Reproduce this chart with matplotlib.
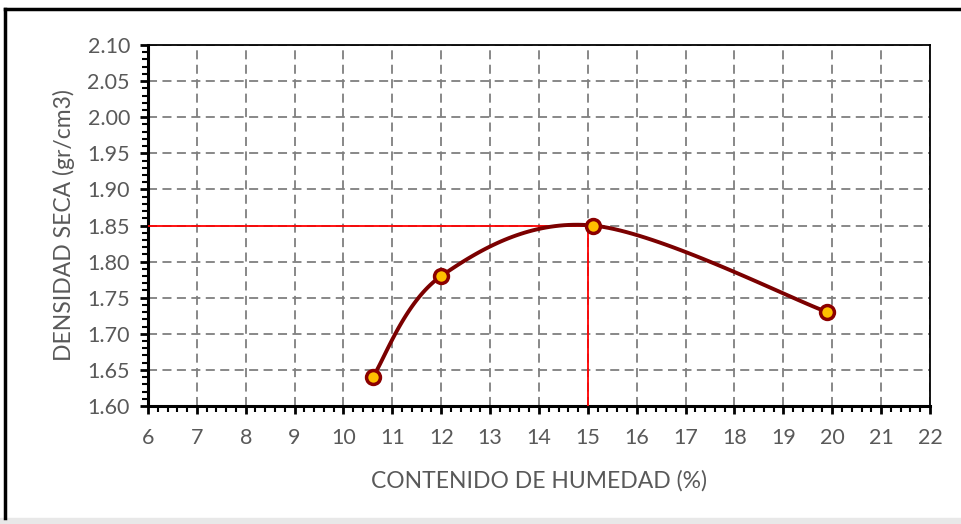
import numpy as np
import matplotlib.pyplot as plt
from matplotlib.lines import Line2D
from matplotlib.ticker import MultipleLocator, FormatStrFormatter

# Datos del ensayo proctor
humedad = [10.6, 12.0, 15.1, 19.9]
densidad = [1.64, 1.78, 1.85, 1.73]
# Optimo (lineas rojas)
hum_opt = 15.0
dens_max = 1.85

plt.rcParams['font.family'] = ['Lato', 'DejaVu Sans']
gris = '#595959'

def suavizar(x, y, n=40):
    #Curva tipo Catmull-Rom (como la linea suavizada de Excel), extremos duplicados
    x = np.asarray(x, float)
    y = np.asarray(y, float)
    px = np.concatenate([[x[0]], x, [x[-1]]])
    py = np.concatenate([[y[0]], y, [y[-1]]])
    xs, ys = [], []
    for i in range(1, len(px)-2):
        t = np.linspace(0, 1, n)
        for p, out in ((px, xs), (py, ys)):
            p0, p1, p2, p3 = p[i-1], p[i], p[i+1], p[i+2]
            out.append(0.5*((2*p1) + (-p0+p2)*t + (2*p0-5*p1+4*p2-p3)*t**2 + (-p0+3*p1-3*p2+p3)*t**3))
    return np.concatenate(xs), np.concatenate(ys)

fig = plt.figure(figsize=(9.62, 5.24), dpi=100)
ax = fig.add_axes([0.1538, 0.2252, 0.8129, 0.6889])

ax.set_xlim(6, 22)
ax.set_ylim(1.6, 2.1)
ax.xaxis.set_major_locator(MultipleLocator(1))
ax.xaxis.set_minor_locator(MultipleLocator(0.2))
ax.yaxis.set_major_locator(MultipleLocator(0.05))
ax.yaxis.set_minor_locator(MultipleLocator(0.01))
ax.yaxis.set_major_formatter(FormatStrFormatter('%.2f'))

ax.grid(True, which='major', color='#7f7f7f', linestyle=(0, (5, 3)), linewidth=1.3)
ax.set_axisbelow(True)

# lineas del optimo
ax.plot([6, hum_opt], [dens_max, dens_max], color='#ff0000', linewidth=1.3, zorder=3)
ax.plot([hum_opt, hum_opt], [1.6, dens_max], color='#ff0000', linewidth=1.3, zorder=3)

xs, ys = suavizar(humedad, densidad)
ax.plot(xs, ys, color='#7b0000', linewidth=2.8, zorder=4, solid_capstyle='round')
ax.plot(humedad, densidad, linestyle='none', marker='o', markersize=10,
        markerfacecolor='#ffc000', markeredgecolor='#8b0000', markeredgewidth=2.5, zorder=5)

for s in ['left', 'bottom']:
    ax.spines[s].set_linewidth(2.2)
for s in ['top', 'right']:
    ax.spines[s].set_linewidth(1.3)

ax.tick_params(which='major', direction='out', length=6, width=2, labelsize=15.5,
               labelcolor=gris)
ax.tick_params(axis='y', which='major', pad=7)
ax.tick_params(axis='x', which='major', pad=10)
ax.tick_params(which='minor', direction='out', length=4, width=1.5)

ax.set_xlabel('CONTENIDO DE HUMEDAD (%)', fontsize=16.5, color=gris, labelpad=16)
ax.set_ylabel('DENSIDAD SECA (gr/cm3)', fontsize=16.5, color=gris, labelpad=9)

# marco exterior
fig.add_artist(Line2D([0.005, 0.005], [0.012, 0.983], color='black', linewidth=2.5, transform=fig.transFigure))
fig.add_artist(Line2D([0.005, 1.0], [0.983, 0.983], color='black', linewidth=2.5, transform=fig.transFigure))
fig.patches.append(plt.Rectangle((0, 0), 1, 0.012, color='#e8e8e8', transform=fig.transFigure, figure=fig))

fig.savefig('out.png', dpi=100)
